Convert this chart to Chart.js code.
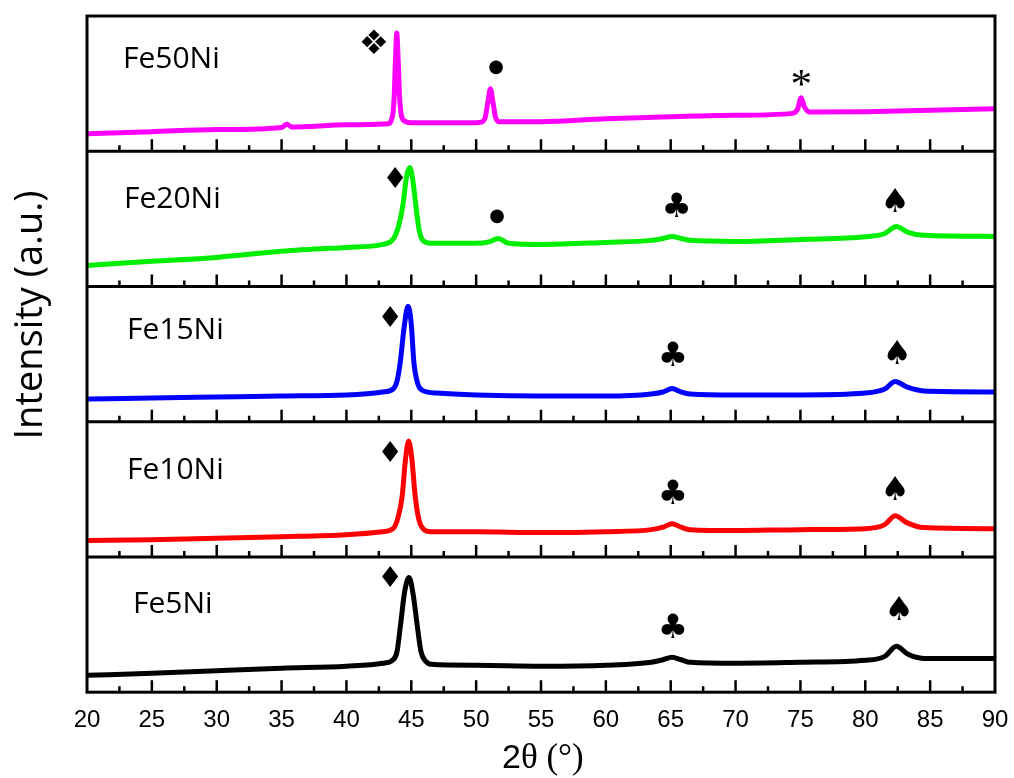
<!DOCTYPE html>
<html>
<head>
<meta charset="utf-8">
<script src="https://cdn.jsdelivr.net/npm/chart.js@4.4.1/dist/chart.umd.min.js"></script>
<style>
  html, body { margin: 0; padding: 0; background: #fff; }
  canvas { display: block; }
</style>
</head>
<body>
<canvas id="xrdChart" width="1014" height="778"></canvas>
<script>
// 2-theta positions (deg) and intensities (% of panel height)
const fe50Angle = [20, 25, 30, 35, 35.4, 35.8, 40, 43.2, 43.55, 43.68, 43.78, 43.88, 43.98, 44.1, 44.25, 44.55, 45, 50, 50.4, 50.7, 50.9, 51.1, 51.3, 51.5, 51.8, 55, 60, 65, 70, 74.4, 74.8, 75.05, 75.3, 75.7, 80, 85, 90];
const fe50Int = [13.0, 14.5, 16.0, 17.6, 20.0, 17.9, 19.6, 20.4, 26, 40, 68, 87.5, 70, 40, 26, 22, 21.1, 21.1, 21.5, 25, 36, 46.2, 36, 25, 21.8, 21.8, 24, 25.5, 26.6, 28, 31.5, 39.5, 33, 29, 29.2, 30.3, 31.4];

const fe20Angle = [20, 25, 30, 35, 40, 42.8, 43.6, 44.0, 44.35, 44.65, 44.88, 45.1, 45.35, 45.6, 45.9, 46.5, 50, 51.0, 51.7, 52.5, 55, 60, 63.5, 64.4, 65.1, 65.8, 66.5, 70, 75, 80, 81.5, 82.4, 83.3, 84.5, 90];
const fe20Int = [15.6, 18.6, 21.5, 26, 28.9, 31.1, 35, 44, 60, 82, 87.9, 80, 60, 42, 34, 32, 31.9, 33, 35.5, 32, 31.1, 32.6, 34.1, 35.5, 37, 35.5, 34.1, 33.3, 34.8, 36.7, 39.2, 44.4, 40, 37.8, 37];

const fe15Angle = [20, 25, 30, 35, 40, 42.8, 43.6, 43.9, 44.15, 44.45, 44.75, 45.0, 45.2, 45.5, 45.9, 47, 50, 55, 60, 63.5, 64.4, 65.1, 65.8, 66.5, 70, 75, 80, 81.5, 82.3, 83.2, 84.5, 90];
const fe15Int = [16.8, 17.6, 18.3, 19, 19.8, 22, 24.2, 30, 44, 70, 85.4, 72, 44, 28, 23, 21.2, 19.8, 19, 19, 20.5, 22, 24.5, 22, 20.5, 19.8, 19.8, 21.2, 24.2, 29.7, 25.7, 22.7, 22];

const fe10Angle = [20, 25, 30, 35, 40, 42.8, 43.6, 44.0, 44.3, 44.55, 44.8, 45.05, 45.3, 45.6, 45.9, 46.5, 50, 55, 60, 63.5, 64.4, 65.1, 65.8, 66.5, 70, 75, 80, 81.5, 82.3, 83.2, 84.5, 90];
const fe10Int = [12.1, 12.8, 13.9, 15, 16.5, 18.7, 20.9, 30, 45, 72, 85.8, 72, 45, 27, 21, 18.7, 18.7, 18, 18.7, 20.2, 22, 24.6, 22, 20.2, 19.5, 20.2, 20.9, 23.9, 30.5, 25.4, 21.7, 20.9];

const fe5Angle = [20, 25, 30, 35, 40, 42.8, 43.6, 43.9, 44.15, 44.5, 44.83, 45.15, 45.45, 45.75, 46.1, 46.5, 50, 55, 60, 63.5, 64.4, 65.1, 65.8, 66.5, 70, 75, 80, 81.5, 82.4, 83.3, 84.5, 90];
const fe5Int = [12.5, 14, 15.9, 17.7, 19.2, 21.4, 24, 30, 48, 75, 84.8, 72, 50, 30, 23, 20.6, 19.9, 19.2, 19.9, 22.1, 24, 25.8, 24, 22.1, 21.4, 22.1, 23.6, 26.5, 33.9, 28, 25, 25];

const sampleNames = ["Fe5Ni", "Fe10Ni", "Fe15Ni", "Fe20Ni", "Fe50Ni"];
const xTicks = [20, 25, 30, 35, 40, 45, 50, 55, 60, 65, 70, 75, 80, 85, 90];

// sample name labels: [angle of left edge, baseline in stacked intensity]
const nameAngle = [23.54, 23.08, 23.08, 22.85, 22.77];
const nameLevel = [58.3, 157.8, 261.1, 358.2, 461.7];

// phase markers: symbol, angle, stacked intensity
const markChar = ["❖", "●", "*", "♦", "●", "♣", "♠", "♦", "♣", "♠", "♦", "♣", "♠", "♦", "♣", "♠"];
const markAngle = [42.11, 51.51, 75.08, 43.73, 51.59, 65.45, 82.33, 43.34, 65.15, 82.48, 43.34, 65.15, 82.33, 43.34, 65.15, 82.63];
const markLevel = [480.8, 461.7, 454.3, 380.5, 351.8, 360.6, 364.3, 278.0, 250.7, 251.5, 177.7, 148.2, 151.2, 85.5, 49.4, 61.9];

const panelSpan = 100;
const colors = ["#000000", "#ff0000", "#0000ff", "#00ee00", "#ff00ff"];
const markInk = { "❖": 25, "●": 14, "*": 16, "♦": 21, "♣": 25, "♠": 24 };

const seriesAngle = [fe5Angle, fe10Angle, fe15Angle, fe20Angle, fe50Angle];
const seriesInt = [fe5Int, fe10Int, fe15Int, fe20Int, fe50Int];

const datasets = seriesInt.map((ints, i) => ({
  label: sampleNames[i],
  data: ints.map((v, j) => ({ x: seriesAngle[i][j], y: v + i * panelSpan })),
  borderColor: colors[i],
  backgroundColor: colors[i],
  borderWidth: 5,
  pointRadius: 0,
  fill: false,
  cubicInterpolationMode: "monotone",
}));

// frame, panel separators, inner ticks, labels and markers
const decor = {
  id: "decor",
  afterDatasetsDraw(chart) {
    const c = chart.ctx;
    const xs = chart.scales.x;
    const ys = chart.scales.y;
    const a = chart.chartArea;
    c.save();
    c.strokeStyle = "#000";
    c.lineWidth = 3;
    c.strokeRect(a.left, a.top, a.right - a.left, a.bottom - a.top);
    for (let k = 1; k < sampleNames.length; k++) {
      const py = ys.getPixelForValue(k * panelSpan);
      c.beginPath();
      c.moveTo(a.left, py);
      c.lineTo(a.right, py);
      c.stroke();
    }
    // inward ticks at the bottom of every panel
    c.lineWidth = 2.5;
    for (let k = 0; k < sampleNames.length; k++) {
      const py = ys.getPixelForValue(k * panelSpan);
      for (let t = 22.5; t < 90; t += 2.5) {
        const px = xs.getPixelForValue(t);
        const len = t % 5 === 0 ? 12 : 6;
        c.beginPath();
        c.moveTo(px, py);
        c.lineTo(px, py - len);
        c.stroke();
      }
    }
    // sample names
    c.fillStyle = "#000";
    c.font = "30px 'Open Sans'";
    c.textAlign = "left";
    c.textBaseline = "alphabetic";
    sampleNames.forEach((name, i) => {
      c.fillText(name, xs.getPixelForValue(nameAngle[i]), ys.getPixelForValue(nameLevel[i]));
    });
    // phase markers, centred on their ink box
    markChar.forEach((ch, i) => {
      const fam = ch === "*" ? "'Liberation Serif'" : "'DejaVu Sans'";
      c.font = "100px " + fam;
      const m = c.measureText(ch);
      const inkH = m.actualBoundingBoxAscent + m.actualBoundingBoxDescent;
      const size = 100 * markInk[ch] / inkH;
      c.font = size.toFixed(1) + "px " + fam;
      const mm = c.measureText(ch);
      const cx = xs.getPixelForValue(markAngle[i]);
      const cy = ys.getPixelForValue(markLevel[i]);
      const ox = (mm.actualBoundingBoxRight - mm.actualBoundingBoxLeft) / 2;
      const oy = (mm.actualBoundingBoxAscent - mm.actualBoundingBoxDescent) / 2;
      c.fillText(ch, cx - ox, cy + oy);
    });
    // axis titles
    c.save();
    c.translate(42, 315);
    c.rotate(-Math.PI / 2);
    c.font = "38px 'Open Sans'";
    c.textAlign = "center";
    c.fillText("Intensity (a.u.)", 0, 0);
    c.restore();
    c.textAlign = "left";
    c.font = "34px 'Liberation Sans'";
    c.fillText("2", 502, 768);
    const w2 = c.measureText("2").width;
    c.font = "35px 'Liberation Serif'";
    c.fillText("θ (°)", 502 + w2, 768);
    c.restore();
  },
};

const ctx = document.getElementById("xrdChart").getContext("2d");
const chart = new Chart(ctx, {
  type: "line",
  data: { datasets: datasets },
  options: {
    responsive: false,
    animation: false,
    devicePixelRatio: 1,
    layout: { padding: { left: 87, right: 19, top: 16, bottom: 29 } },
    plugins: { legend: { display: false }, tooltip: { enabled: false } },
    scales: {
      x: {
        type: "linear",
        min: 20,
        max: 90,
        afterBuildTicks: (s) => { s.ticks = xTicks.map((v) => ({ value: v })); },
        afterFit: (s) => { s.paddingLeft = 0; s.paddingRight = 0; },
        ticks: {
          color: "#000",
          padding: 14,
          font: { family: "'Liberation Sans'", size: 24 },
        },
        grid: { display: false, drawTicks: false },
        border: { display: false },
      },
      y: {
        display: false,
        min: 0,
        max: panelSpan * sampleNames.length,
      },
    },
  },
  plugins: [decor],
});
</script>
</body>
</html>
